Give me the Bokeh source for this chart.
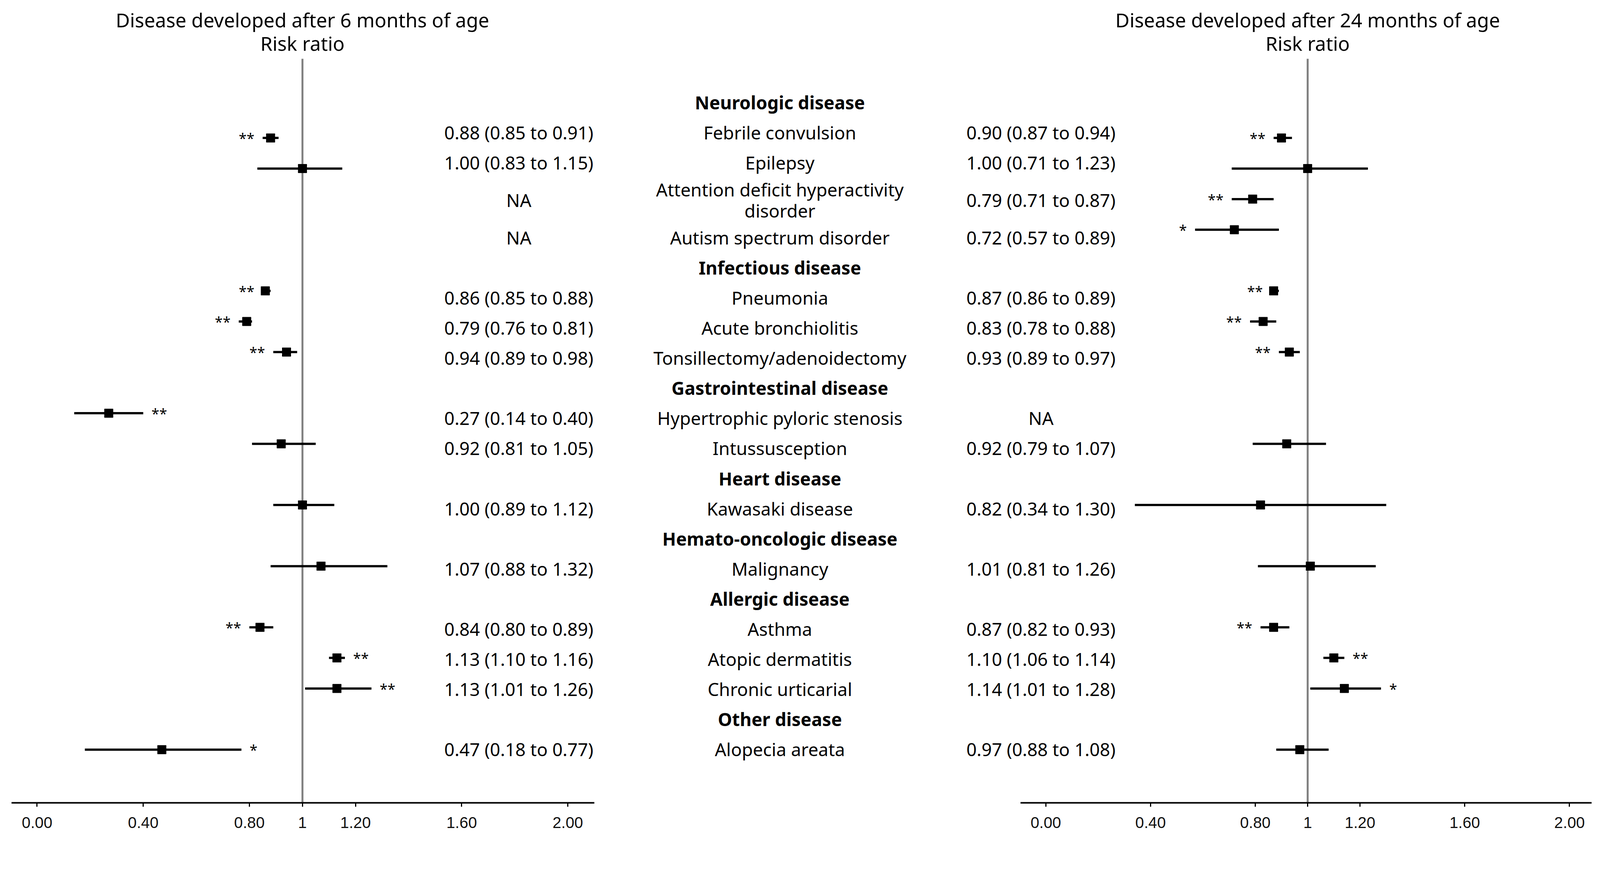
import math
from bokeh.plotting import figure
from bokeh.models import Range1d, FixedTicker, CustomJSTickFormatter, ColumnDataSource
from bokeh.layouts import row
from bokeh.embed import file_html
from bokeh.resources import INLINE
from bokeh.core.properties import value

NA = float("nan")

# ---------------- data ----------------
labels = [
    "Neurologic disease", "Febrile convulsion", "Epilepsy",
    "Attention deficit hyperactivity\ndisorder", "Autism spectrum disorder",
    "Infectious disease", "Pneumonia", "Acute bronchiolitis", "Tonsillectomy/adenoidectomy",
    "Gastrointestinal disease", "Hypertrophic pyloric stenosis", "Intussusception",
    "Heart disease", "Kawasaki disease",
    "Hemato-oncologic disease", "Malignancy",
    "Allergic disease", "Asthma", "Atopic dermatitis", "Chronic urticarial",
    "Other disease", "Alopecia areata",
]
is_header = [True, False, False, False, False,
             True, False, False, False,
             True, False, False,
             True, False,
             True, False,
             True, False, False, False,
             True, False]

# Disease developed after 6 months of age
rr6 = [NA, 0.88, 1.00, NA, NA, NA, 0.86, 0.79, 0.94, NA, 0.27, 0.92, NA, 1.00, NA, 1.07, NA, 0.84, 1.13, 1.13, NA, 0.47]
lo6 = [NA, 0.85, 0.83, NA, NA, NA, 0.85, 0.76, 0.89, NA, 0.14, 0.81, NA, 0.89, NA, 0.88, NA, 0.80, 1.10, 1.01, NA, 0.18]
hi6 = [NA, 0.91, 1.15, NA, NA, NA, 0.88, 0.81, 0.98, NA, 0.40, 1.05, NA, 1.12, NA, 1.32, NA, 0.89, 1.16, 1.26, NA, 0.77]
sig6 = ["", "**", "", "", "", "", "**", "**", "**", "", "**", "", "", "", "", "", "", "**", "**", "**", "", "*"]
side6 = ["", "L", "", "", "", "", "L", "L", "L", "", "R", "", "", "", "", "", "", "L", "R", "R", "", "R"]

# Disease developed after 24 months of age
rr24 = [NA, 0.90, 1.00, 0.79, 0.72, NA, 0.87, 0.83, 0.93, NA, NA, 0.92, NA, 0.82, NA, 1.01, NA, 0.87, 1.10, 1.14, NA, 0.97]
lo24 = [NA, 0.87, 0.71, 0.71, 0.57, NA, 0.86, 0.78, 0.89, NA, NA, 0.79, NA, 0.34, NA, 0.81, NA, 0.82, 1.06, 1.01, NA, 0.88]
hi24 = [NA, 0.94, 1.23, 0.87, 0.89, NA, 0.89, 0.88, 0.97, NA, NA, 1.07, NA, 1.30, NA, 1.26, NA, 0.93, 1.14, 1.28, NA, 1.08]
sig24 = ["", "**", "", "**", "*", "", "**", "**", "**", "", "", "", "", "", "", "", "", "**", "**", "*", "", ""]
side24 = ["", "L", "", "L", "L", "", "L", "L", "L", "", "", "", "", "", "", "", "", "L", "R", "R", "", ""]

tick_values = [0.0, 0.4, 0.8, 1.0, 1.2, 1.6, 2.0]
title6 = "Disease developed after 6 months of age"
title24 = "Disease developed after 24 months of age"
subtitle = "Risk ratio"

# ---------------- layout constants ----------------
# reference-picture pixels are converted to CSS pixels with S
S = 1 / 1.0445


def px(v):
    return v * S


FONT = "Noto Sans"
FS = f"{px(48):.1f}px"
TFS = f"{px(52):.1f}px"
ROW_PX = 81.8                          # marker row height (reference px)
ROW0 = 295.0                           # reference y of row 0
FRAME_TOP_R = 8 / S
AXIS_R = 2155
Y_TOP = (FRAME_TOP_R - ROW0) / ROW_PX
Y_BOT = (AXIS_R - ROW0) / ROW_PX
MB = 92
H = int(round(px(AXIS_R) - 8 + MB))
TEXT_ROW = 80.5 / ROW_PX
TEXT_ROW2 = 120.5 / ROW_PX
TEXT_TOP = (281 - 40.25 - ROW0) / ROW_PX
LINE_GAP = 28.5 / ROW_PX
REF_TOP = (165 - ROW0) / ROW_PX
TITLE_Y = [(61 - ROW0) / ROW_PX, (124 - ROW0) / ROW_PX]

L0, LU = 107, 709.5      # left panel: reference x of RR=0, px per unit
R0, RU = 2804, 700       # right panel
SPLIT = 2540             # reference x where the two canvases meet
R_END = 4286

n = len(labels)
marker_y = list(range(n))

text_y = []
cur = TEXT_TOP
for lab in labels:
    h = TEXT_ROW2 if "\n" in lab else TEXT_ROW
    text_y.append(cur + h / 2)
    cur += h


def fmt(r, l, h):
    if math.isnan(r):
        return "NA"
    return f"{r:.2f} ({l:.2f} to {h:.2f})"


def make_fig(width, xr, bounds, rr, lo, hi, sig, side, title):
    p = figure(width=width, height=H, x_range=Range1d(*xr), y_range=Range1d(Y_BOT, Y_TOP),
               output_backend="svg", toolbar_location=None, y_axis_location=None,
               min_border_left=0, min_border_right=0, min_border_top=0, min_border_bottom=MB)
    p.outline_line_color = None
    p.grid.visible = False
    p.background_fill_color = "white"
    p.border_fill_color = "white"

    ax = p.xaxis[0]
    ax.bounds = bounds
    ax.ticker = FixedTicker(ticks=tick_values)
    ax.formatter = CustomJSTickFormatter(code="return tick == 1 ? '1' : tick.toFixed(2);")
    ax.axis_line_width = 4
    ax.axis_line_color = "black"
    ax.major_tick_line_width = 3
    ax.major_tick_line_color = "black"
    ax.major_tick_in = 0
    ax.major_tick_out = 10
    ax.minor_tick_line_color = None
    ax.major_label_standoff = 26
    ax.major_label_text_font = "Liberation Sans"
    ax.major_label_text_font_size = f"{px(42):.1f}px"
    ax.major_label_text_color = "#111111"

    # reference line at RR = 1
    p.segment(x0=[1.0], y0=[REF_TOP], x1=[1.0], y1=[Y_BOT], line_color="#808080", line_width=5)

    # titles
    p.text(x=[1.0, 1.0], y=TITLE_Y, text=[title, subtitle], text_align="center",
           text_baseline="middle", text_font=value(FONT), text_font_size=TFS, text_color="black")

    ok = [i for i in range(n) if not math.isnan(rr[i])]
    src = ColumnDataSource(dict(
        rr=[rr[i] for i in ok], lo=[lo[i] for i in ok], hi=[hi[i] for i in ok],
        y=[marker_y[i] for i in ok]))
    p.segment(x0="lo", y0="y", x1="hi", y1="y", source=src, line_color="black", line_width=px(6))
    p.scatter(x="rr", y="y", source=src, marker="square", size=px(23), fill_color="black", line_color="black")

    for s, align, key, off in (("L", "right", lo, -px(22)), ("R", "left", hi, px(22))):
        idx = [i for i in range(n) if side[i] == s and sig[i]]
        if idx:
            p.text(x=[key[i] for i in idx], y=[marker_y[i] for i in idx], text=[sig[i] for i in idx],
                   text_align=align, text_baseline="middle", x_offset=off, y_offset=0,
                   text_font=value(FONT), text_font_size=f"{px(38):.1f}px", text_color="black")
    return p


wL = int(round(px(SPLIT) - 8))
wR = int(round(px(R_END) - px(SPLIT)))
pL = make_fig(wL, ((FRAME_TOP_R - L0) / LU, (SPLIT - L0) / LU), (-0.097, 2.100),
              rr6, lo6, hi6, sig6, side6, title6)
pR = make_fig(wR, ((SPLIT - R0) / RU, (R_END - R0) / RU), (-0.096, 2.084),
              rr24, lo24, hi24, sig24, side24, title24)

# numeric columns
num6 = [fmt(rr6[i], lo6[i], hi6[i]) for i in range(n) if not is_header[i]]
num24 = [fmt(rr24[i], lo24[i], hi24[i]) for i in range(n) if not is_header[i]]
ny = [text_y[i] for i in range(n) if not is_header[i]]
pL.text(x=(1395 - L0) / LU, y=ny, text=num6, text_align="center", text_baseline="middle",
        text_font=value(FONT), text_font_size=FS, text_color="black")
pR.text(x=(2791 - R0) / RU, y=ny, text=num24, text_align="center", text_baseline="middle",
        text_font=value(FONT), text_font_size=FS, text_color="black")

# disease names (centre column)
name_x = (2093 - L0) / LU
ly, lt, lb = [], [], []
for i, lab in enumerate(labels):
    parts = lab.split("\n")
    if len(parts) == 1:
        ly.append(text_y[i]); lt.append(lab); lb.append(is_header[i])
    else:
        ly.extend([text_y[i] - LINE_GAP, text_y[i] + LINE_GAP]); lt.extend(parts); lb.extend([is_header[i]] * 2)
pL.text(x=name_x, y=[y for y, b in zip(ly, lb) if not b], text=[t for t, b in zip(lt, lb) if not b],
        text_align="center", text_baseline="middle", text_font=value(FONT), text_font_size=FS,
        text_color="black")
pL.text(x=name_x, y=[y for y, b in zip(ly, lb) if b], text=[t for t, b in zip(lt, lb) if b],
        text_align="center", text_baseline="middle", text_font=value(FONT), text_font_size=FS,
        text_font_style="bold", text_color="black")

layout = row(pL, pR)
open("out.html", "w").write(file_html(layout, INLINE))
